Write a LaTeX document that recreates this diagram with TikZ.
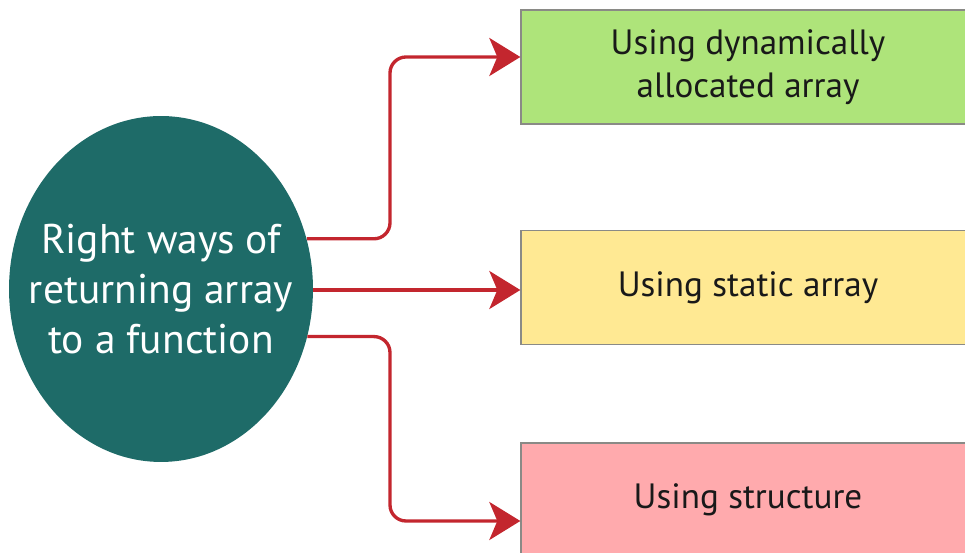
\documentclass[tikz,border=0pt]{standalone}
\usepackage{fontspec}
\setmainfont{PT Sans}
\usetikzlibrary{shapes.geometric,arrows.meta}
\definecolor{tealc}{HTML}{1E6B68}
\definecolor{verde}{HTML}{AEE47A}
\definecolor{amarillo}{HTML}{FFE993}
\definecolor{rosa}{HTML}{FFAAAD}
\definecolor{rojo}{HTML}{C3262E}
\definecolor{borde}{HTML}{8A8A86}
\tikzset{
  raiz/.style={ellipse, fill=tealc, minimum width=6.08cm, minimum height=6.92cm, inner sep=0pt},
  textoraiz/.style={text=white, align=center, font=\fontsize{23.6}{28.3}\selectfont},
  caja/.style={rectangle, draw=borde, line width=0.8pt, minimum width=9.08cm, minimum height=2.28cm,
    align=center, text=black!90, font=\fontsize{20}{24.4}\selectfont},
  flecha/.style={rojo, line width=1.9pt, rounded corners=0.32cm,
    -{Stealth[length=0.62cm, width=0.76cm, inset=0.16cm]}}
}
\begin{document}
\begin{tikzpicture}[x=0.02cm, y=-0.02cm]
        \useasboundingbox (0,0) rectangle (965,553);
        % Nodo central
        \node[raiz] (raiz) at (161,289) {};
        \node[textoraiz] (texto) at (raiz.center) {Right ways of\\returning array\\to a function};
        % Opciones
        \node[caja, fill=verde] (dinamico) at (748,67) {Using dynamically\\allocated array};
        \node[caja, fill=amarillo] (estatico) at (748,287.5) {Using static array};
        \node[caja, fill=rosa] (estructura) at (748,500) {Using structure};
        % Conectores
        \coordinate (codo) at (390,0);
        \draw[flecha] (raiz.19.5) -- (raiz.19.5 -| codo) |- (dinamico.west |- 0,57);
        \draw[flecha] (raiz.east |- 0,290) -- (estatico.west |- 0,290);
        \draw[flecha] (raiz.-18.8) -- (raiz.-18.8 -| codo) |- (estructura.west |- 0,521);
    \end{tikzpicture}
\end{document}
